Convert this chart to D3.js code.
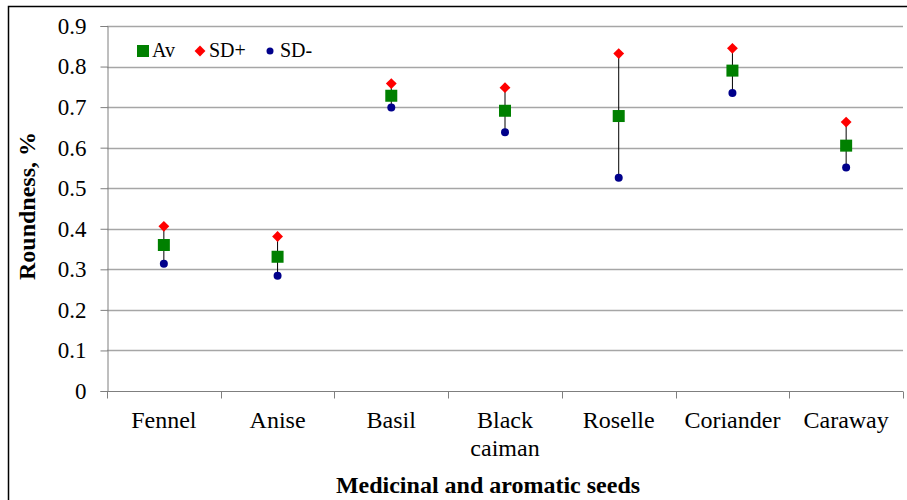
<!DOCTYPE html>
<html>
<head>
<meta charset="utf-8">
<script src="https://cdn.jsdelivr.net/npm/d3@7"></script>
</head>
<body style="margin:0;background:#fff">
<svg id="chart" width="907" height="500" style="display:block"></svg>
<script>
const categories = ["Fennel", "Anise", "Basil", "Black\ncaiman", "Roselle", "Coriander", "Caraway"];
const avValues   = [0.360, 0.331, 0.728, 0.691, 0.678, 0.790, 0.605];
const sdPlus     = [0.406, 0.381, 0.758, 0.748, 0.832, 0.845, 0.663];
const sdMinus    = [0.314, 0.284, 0.699, 0.638, 0.526, 0.735, 0.551];
const yTicks     = [0, 0.1, 0.2, 0.3, 0.4, 0.5, 0.6, 0.7, 0.8, 0.9];

const FONT = "Liberation Serif";
const svg = d3.select("#chart");
const W = 907, H = 500;
const m = { left: 107, right: 4, top: 26, bottom: 109 };
const pw = W - m.left - m.right, ph = H - m.top - m.bottom;

// outer border
svg.append("rect").attr("x", 8.5).attr("y", 6.5).attr("width", W + 10).attr("height", H + 10)
  .attr("fill", "none").attr("stroke", "#000").attr("stroke-width", 1.5);

const x = d3.scaleBand().domain(d3.range(categories.length)).range([m.left, m.left + pw]).padding(0);
const y = d3.scaleLinear().domain([0, 0.9]).range([m.top + ph, m.top]);

// gridlines
svg.append("g").selectAll("line").data(yTicks.slice(1)).join("line")
  .attr("x1", m.left).attr("x2", m.left + pw)
  .attr("y1", d => Math.round(y(d)) + 0.5).attr("y2", d => Math.round(y(d)) + 0.5)
  .attr("stroke", "#a6a6a6").attr("stroke-width", 1.3);

// y axis
const yAxis = svg.append("g").attr("transform", `translate(${m.left + 0.5},0)`)
  .call(d3.axisLeft(y).tickValues(yTicks).tickFormat(d => d === 0 ? "0" : d3.format(".1f")(d)).tickSize(7).tickPadding(14));
yAxis.attr("font-family", FONT);
yAxis.select(".domain").attr("stroke", "#7f7f7f");
yAxis.selectAll(".tick line").attr("stroke", "#7f7f7f");
yAxis.selectAll(".tick text").attr("font-size", 23).attr("fill", "#000");

// x axis
const xAxisG = svg.append("g").attr("transform", `translate(0,${Math.round(y(0)) + 0.5})`);
xAxisG.append("line").attr("x1", m.left).attr("x2", m.left + pw).attr("stroke", "#7f7f7f");
const boundaries = d3.range(categories.length + 1).map(i => i === categories.length ? m.left + pw : x(i));
xAxisG.selectAll("line.tk").data(boundaries).join("line").attr("class", "tk")
  .attr("x1", d => Math.round(d) + 0.5).attr("x2", d => Math.round(d) + 0.5)
  .attr("y1", 0).attr("y2", 7).attr("stroke", "#7f7f7f");

const labels = svg.append("g").selectAll("text").data(categories).join("text")
  .attr("x", (d, i) => x(i) + x.bandwidth() / 2)
  .attr("y", 428).attr("text-anchor", "middle").attr("font-size", 24).attr("fill", "#000");
labels.each(function(d) {
  const t = d3.select(this);
  d.split("\n").forEach((line, k) => {
    t.append("tspan").attr("x", t.attr("x")).attr("dy", k === 0 ? 0 : 28).text(line);
  });
});

// axis titles
svg.append("text").attr("x", 488).attr("y", 493).attr("text-anchor", "middle")
  .attr("font-size", 24).attr("font-weight", "bold").text("Medicinal and aromatic seeds");
svg.append("text").attr("transform", "translate(35,206) rotate(-90)").attr("text-anchor", "middle")
  .attr("font-size", 24).attr("font-weight", "bold").text("Roundness, %");

// error lines
const cx = i => x(i) + x.bandwidth() / 2;
svg.append("g").selectAll("line").data(categories).join("line")
  .attr("x1", (d, i) => cx(i)).attr("x2", (d, i) => cx(i))
  .attr("y1", (d, i) => y(sdPlus[i])).attr("y2", (d, i) => y(sdMinus[i]))
  .attr("stroke", "#000").attr("stroke-width", 1);

const diamond = d3.symbol().type(d3.symbolDiamond2).size(75);
// SD-
svg.append("g").selectAll("circle").data(sdMinus).join("circle")
  .attr("cx", (d, i) => cx(i)).attr("cy", d => y(d)).attr("r", 4).attr("fill", "#00008b");
// SD+
svg.append("g").selectAll("path").data(sdPlus).join("path")
  .attr("d", diamond).attr("transform", (d, i) => `translate(${cx(i)},${y(d)})`).attr("fill", "#ff0000");
// Av
svg.append("g").selectAll("rect").data(avValues).join("rect")
  .attr("x", (d, i) => cx(i) - 6).attr("y", d => y(d) - 6).attr("width", 12).attr("height", 12)
  .attr("fill", "#008000");

// legend
const lg = svg.append("g");
lg.append("rect").attr("x", 137).attr("y", 45).attr("width", 12).attr("height", 12).attr("fill", "#008000");
lg.append("text").attr("x", 152).attr("y", 57).attr("font-size", 20).text("Av");
lg.append("path").attr("d", diamond).attr("transform", "translate(200,51)").attr("fill", "#ff0000");
lg.append("text").attr("x", 209).attr("y", 57).attr("font-size", 20).text("SD+");
lg.append("circle").attr("cx", 270).attr("cy", 51).attr("r", 3.5).attr("fill", "#00008b");
lg.append("text").attr("x", 280).attr("y", 57).attr("font-size", 20).text("SD-");

svg.selectAll("text").attr("font-family", FONT);
</script>
</body>
</html>
